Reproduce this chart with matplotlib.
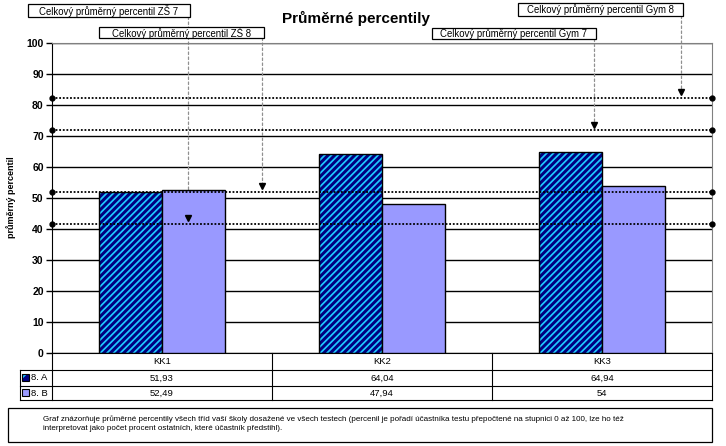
import numpy as np
import matplotlib
matplotlib.use("Agg")
import matplotlib.pyplot as plt
from matplotlib.patches import Rectangle
from matplotlib.transforms import blended_transform_factory

plt.rcParams['font.family'] = ['Liberation Sans', 'DejaVu Sans']
plt.rcParams['hatch.linewidth'] = 1.25

#data
categories = ["KK1", "KK2", "KK3"]
series_names = ["8. A", "8. B"]
values_a = [51.93, 64.04, 64.94]
values_b = [52.49, 47.94, 54]
labels_a = ["51,93", "64,04", "64,94"]
labels_b = ["52,49", "47,94", "54"]
ref_names = ["Celkový průměrný percentil ZŠ 7", "Celkový průměrný percentil ZŠ 8",
             "Celkový průměrný percentil Gym 7", "Celkový průměrný percentil Gym 8"]
ref_values = [41.7, 51.9, 71.8, 82.3]
note = ("Graf znázorňuje průměrné percentily všech tříd vaší školy dosažené ve všech testech "
        "(percenil je pořadí účastníka testu přepočtené na stupnici 0 až 100, lze ho též\n"
        "interpretovat jako počet procent ostatních, které účastník předstihl).")

NAVY = "#000080"
CYAN = "#1ec8ff"
LAVENDER = "#9999ff"

W, H = 726, 446
def fx(px):
    return px / W
def fy(py):
    return 1 - py / H

fig = plt.figure(figsize=(W / 100, H / 100), dpi=100)
ax = fig.add_axes([fx(52), fy(353), 660 / W, 310 / H])

x = np.arange(len(categories))
w = 0.286
ax.bar(x - w / 2, values_a, w, color=NAVY, edgecolor=CYAN, hatch="/////", lw=0, zorder=2)
ax.bar(x - w / 2, values_a, w, fill=False, edgecolor="black", lw=1, zorder=3)
ax.bar(x + w / 2, values_b, w, color=LAVENDER, edgecolor="black", lw=1, zorder=3)

ax.set_xlim(-0.5, 2.5)
ax.set_ylim(0, 100)
ax.set_yticks(range(0, 101, 10))
ax.set_xticks([])
ax.yaxis.grid(True, color="black", lw=1)
ax.set_axisbelow(True)
ax.tick_params(axis="y", length=4, width=1, pad=2, labelsize=7.5)
for lab in ax.get_yticklabels():
    lab.set_fontweight("bold")
for s in ["top", "right"]:
    ax.spines[s].set_color("#808080")
for s in ["left", "bottom"]:
    ax.spines[s].set_color("black")

# reference lines
for v in ref_values:
    ax.plot([-0.5, 2.5], [v, v], ls=(0, (1, 1)), color="black", lw=1.3,
            marker="o", ms=3.5, clip_on=False, zorder=4)

# label boxes (left, top, right, bottom in px)
boxes = [(28, 4, 190, 17), (99, 27, 264, 38), (432, 28, 596, 39), (518, 3, 683, 16)]
for name, v, (l, t, r, b) in zip(ref_names, ref_values, boxes):
    cx = (r - 1.5 - 52) / 220 - 0.5
    ax.annotate("", xy=(cx, v + 1.2), xycoords="data",
                xytext=(cx, fy(b)), textcoords=("data", "figure fraction"),
                arrowprops=dict(arrowstyle="-", ls=(0, (2, 2)), color="#909090",
                                lw=0.9, shrinkA=0, shrinkB=0), zorder=1)
    ax.plot([cx], [v + 1.9], marker="v", color="black", ms=4, clip_on=False, zorder=5)
    fig.add_artist(Rectangle((fx(l), fy(b)), (r - l) / W, (b - t) / H,
                             transform=fig.transFigure, facecolor="white",
                             edgecolor="black", lw=0.9, zorder=6))
    fig.text(fx((l + r) / 2), fy((t + b) / 2 + 0.5), name, ha="center", va="center",
             fontsize=6.9, zorder=7)

# title and y label
fig.text(fx(356), fy(18), "Průměrné percentily", ha="center", va="center",
         fontsize=11, fontweight="bold")
fig.text(fx(11), fy(197), "průměrný percentil", rotation=90, ha="center",
         va="center", fontsize=6.5, fontweight="bold")

# data table
tr = blended_transform_factory(ax.transData, fig.transFigure)
xl = -0.5 - 32 / 220
rows = [353, 370, 386, 400]
lk = dict(color="black", lw=0.8, transform=tr, clip_on=False)
for yy in rows[1:]:
    ax.plot([xl, 2.5], [fy(yy), fy(yy)], **lk)
ax.plot([xl, xl], [fy(370), fy(400)], **lk)
for xx in [-0.5, 0.5, 1.5, 2.5]:
    ax.plot([xx, xx], [fy(353), fy(400)], **lk)
for i, c in enumerate(categories):
    ax.text(i, fy(361.5), c, transform=tr, ha="center", va="center", fontsize=6.8)
    ax.text(i, fy(378), labels_a[i], transform=tr, ha="center", va="center", fontsize=6.8)
    ax.text(i, fy(393), labels_b[i], transform=tr, ha="center", va="center", fontsize=6.8)

# legend keys in table
fig.add_artist(Rectangle((fx(22), fy(381)), 7 / W, 7 / H, transform=fig.transFigure,
                         facecolor=NAVY, edgecolor=CYAN, hatch="///", lw=0))
fig.add_artist(Rectangle((fx(22), fy(381)), 7 / W, 7 / H, transform=fig.transFigure,
                         fill=False, edgecolor="black", lw=0.8))
fig.add_artist(Rectangle((fx(22), fy(396)), 7 / W, 7 / H, transform=fig.transFigure,
                         facecolor=LAVENDER, edgecolor="black", lw=0.8))
fig.text(fx(31), fy(378), series_names[0], ha="left", va="center", fontsize=6.8)
fig.text(fx(31), fy(393), series_names[1], ha="left", va="center", fontsize=6.8)

# note box
fig.add_artist(Rectangle((fx(8), fy(442)), 704 / W, 34 / H, transform=fig.transFigure,
                         facecolor="white", edgecolor="black", lw=0.9))
fig.text(fx(43), fy(415), note, ha="left", va="top", fontsize=5.8, linespacing=1.45)

fig.savefig("out.png", dpi=100)
